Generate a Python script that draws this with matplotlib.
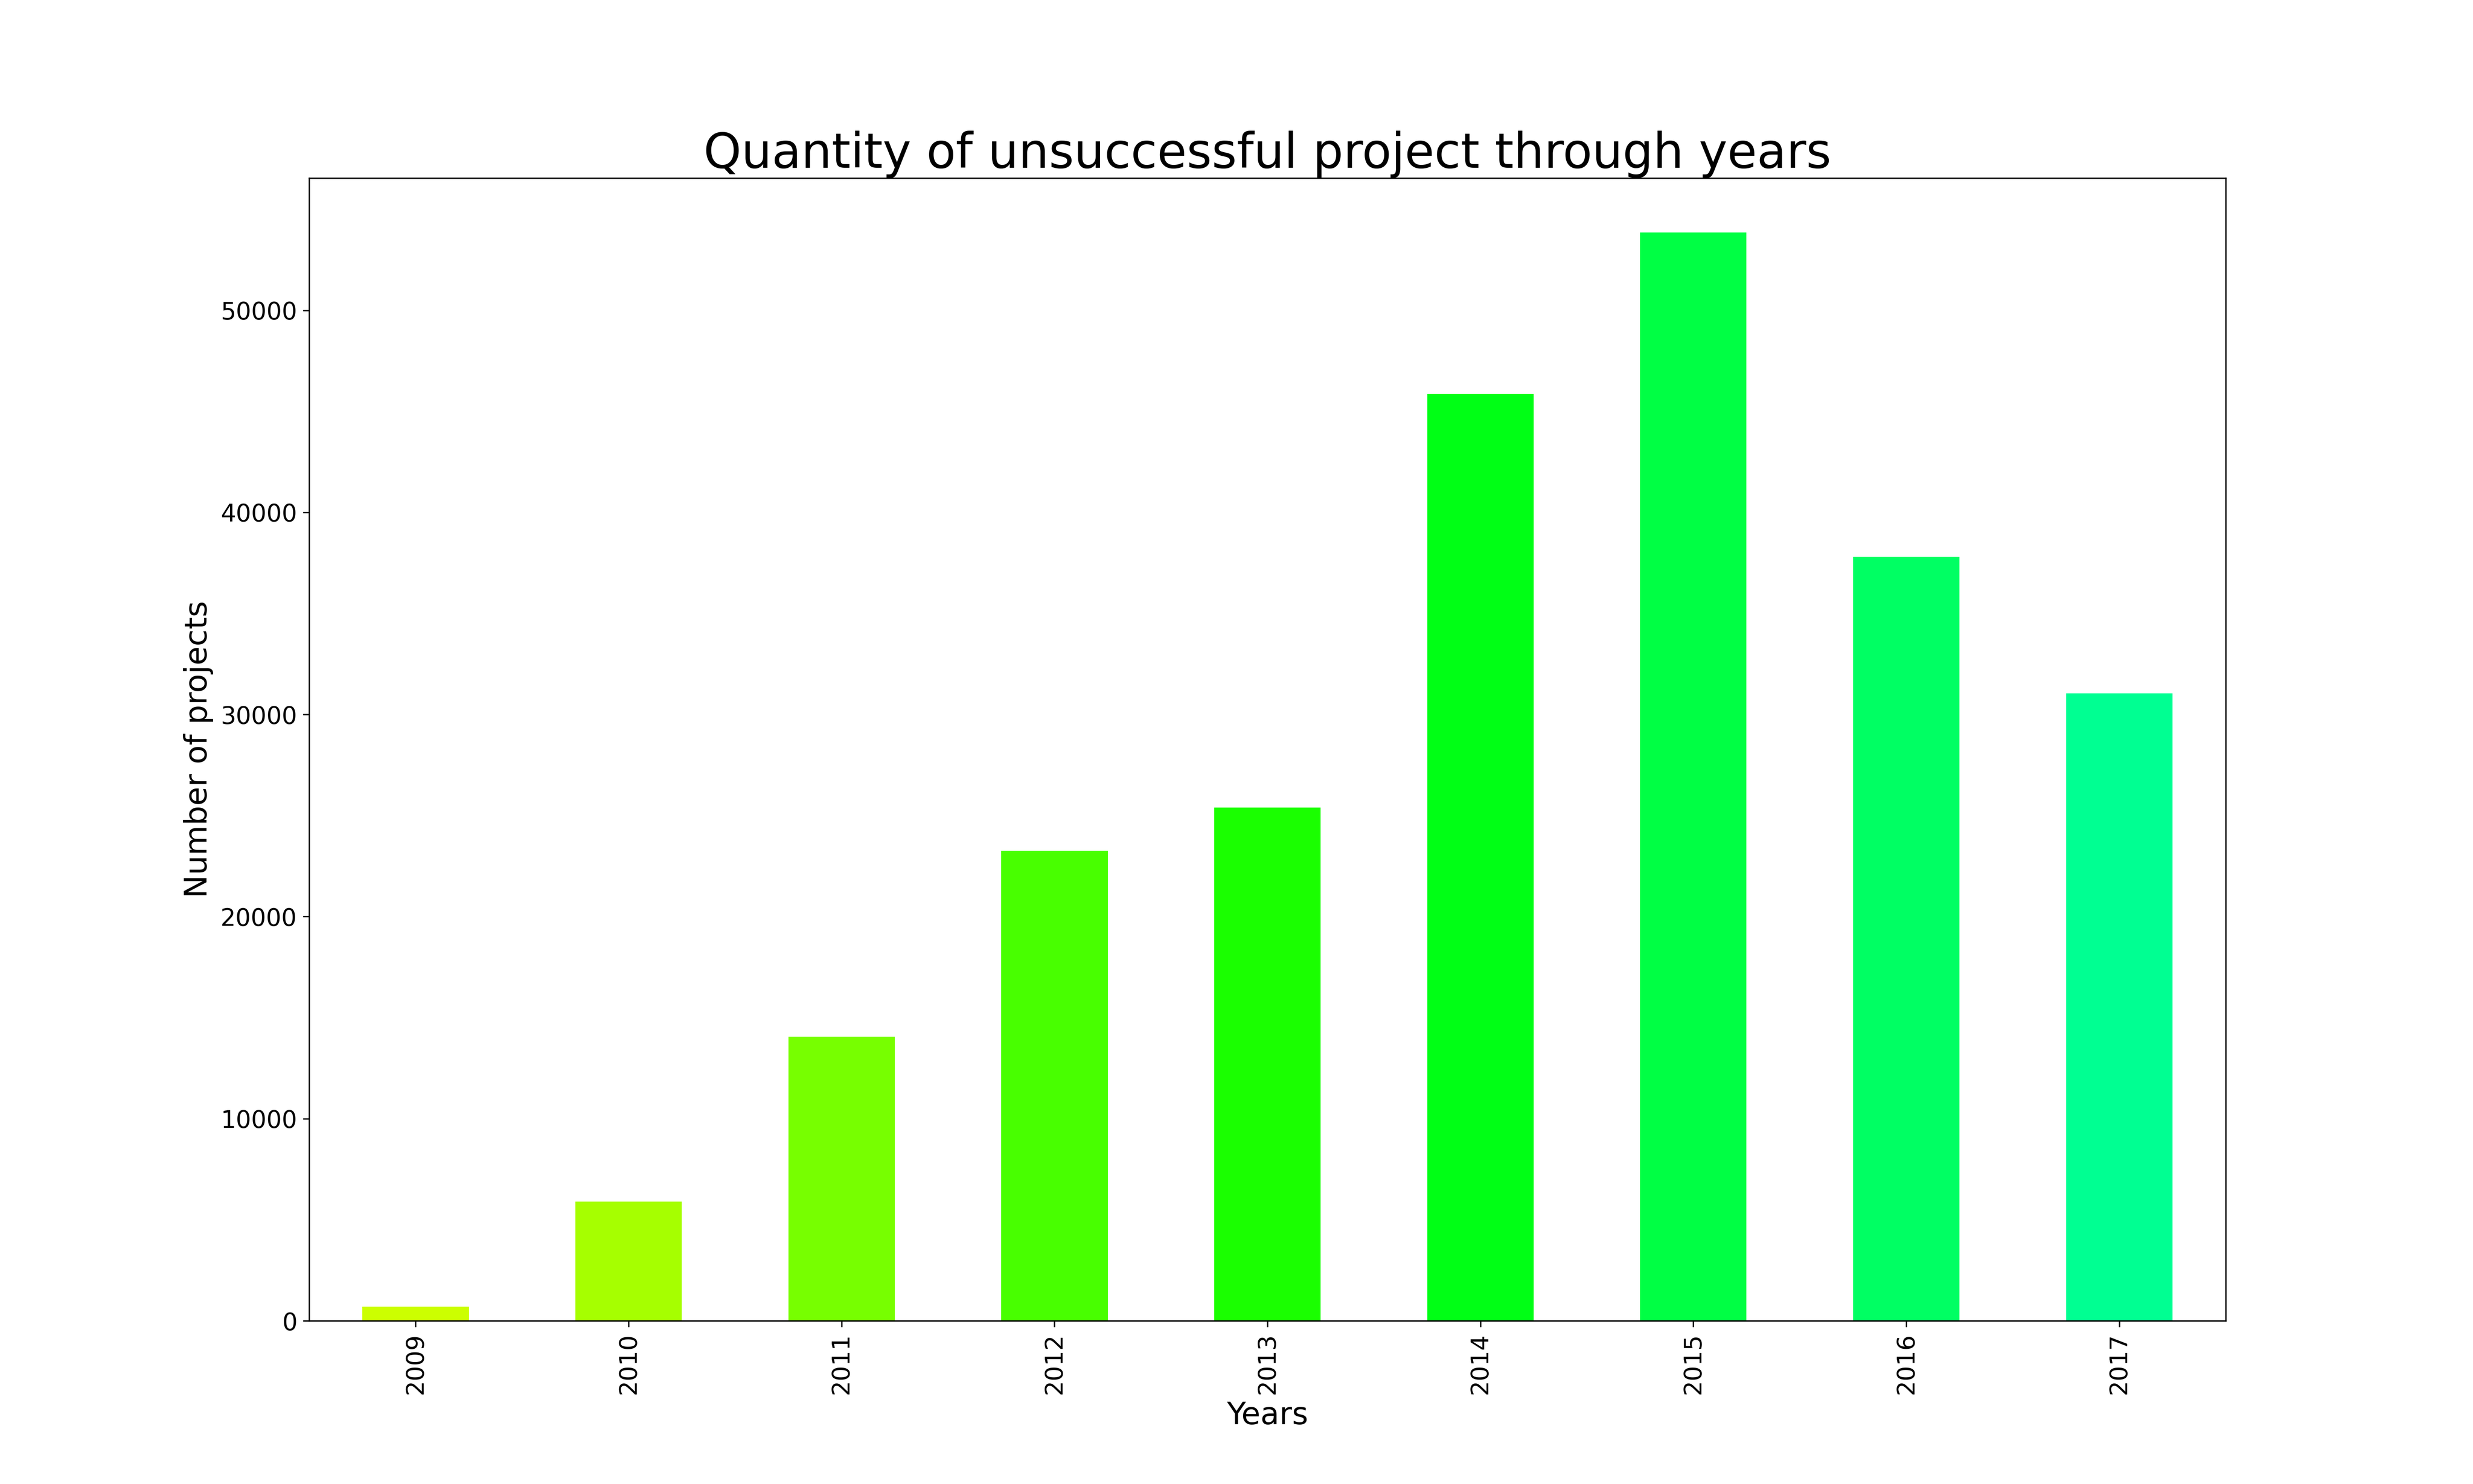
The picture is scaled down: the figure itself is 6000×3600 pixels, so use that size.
import matplotlib
matplotlib.use("Agg")
import matplotlib.pyplot as plt

years = ["2009", "2010", "2011", "2012", "2013", "2014", "2015", "2016", "2017"]
projects = [700, 5900, 14050, 23250, 25400, 45850, 53850, 37800, 31050]
colors = ["#ccff00", "#a6ff00", "#77ff00", "#48ff00", "#1aff00",
          "#00ff15", "#00ff44", "#00ff63", "#00ff92"]

fig, ax = plt.subplots(figsize=(20, 12), dpi=300)
x = range(len(years))
ax.bar(x, projects, width=0.5, color=colors)
ax.set_xlim(-0.5, len(years) - 0.5)
ax.set_ylim(0, max(projects) * 1.05)
ax.set_xticks(list(x))
ax.set_xticklabels(years, rotation=90)
ax.tick_params(axis="both", labelsize=14)
ax.set_title("Quantity of unsuccessful project through years", fontsize=28)
ax.set_xlabel("Years", fontsize=18)
ax.set_ylabel("Number of projects", fontsize=18)

fig.savefig("out.png")
